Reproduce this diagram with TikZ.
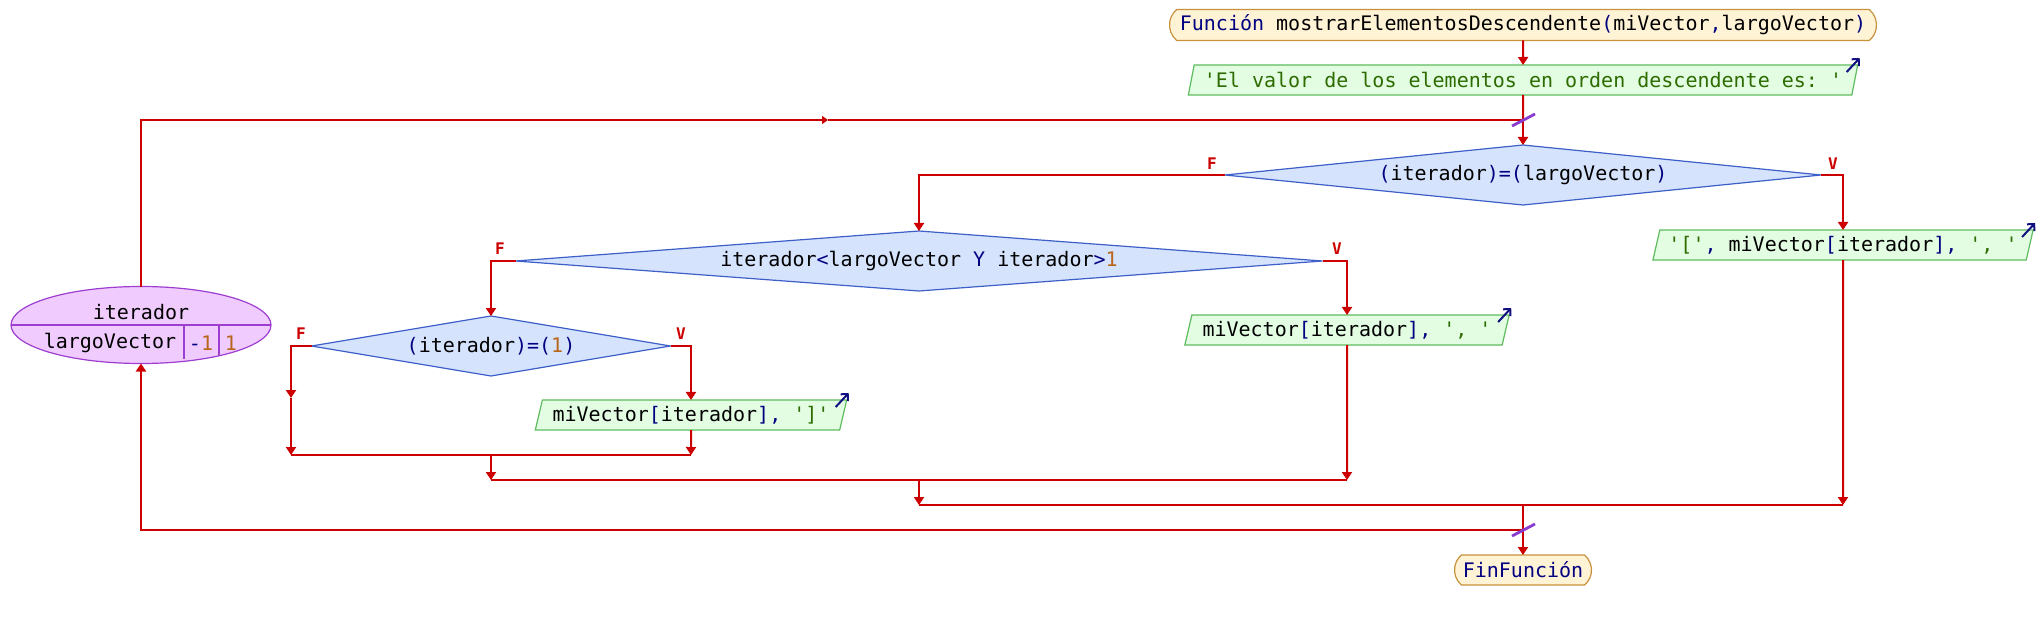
\documentclass[tikz,border=0pt]{standalone}
\usepackage{fontspec}
\setmonofont{DejaVu Sans Mono}
\usetikzlibrary{shapes.geometric,shapes.misc,arrows.meta}
\definecolor{lineRed}{HTML}{CC0000}
\definecolor{startFill}{HTML}{FFF3D6}
\definecolor{startDraw}{HTML}{C8923C}
\definecolor{outFill}{HTML}{E3FDE3}
\definecolor{outDraw}{HTML}{5FBB5F}
\definecolor{diaFill}{HTML}{D5E3FD}
\definecolor{diaDraw}{HTML}{3D5FC8}
\definecolor{loopFill}{HTML}{F0CCFE}
\definecolor{loopDraw}{HTML}{9D3ED0}
\definecolor{slashCol}{HTML}{8A3CD0}
\definecolor{iconCol}{HTML}{101080}
\definecolor{opc}{HTML}{000080}
\definecolor{numc}{HTML}{B8651B}
\definecolor{strc}{HTML}{2E6B00}
\newcommand{\op}[1]{\textcolor{opc}{#1}}
\newcommand{\nm}[1]{\textcolor{numc}{#1}}
\newcommand{\st}[1]{\textcolor{strc}{#1}}
\begin{document}
\begin{tikzpicture}[x=0.5pt,y=-0.5pt,
  font=\ttfamily\fontsize{10}{12}\selectfont,
  conn/.style={draw=lineRed, line width=1pt},
  arr/.style={conn, -{Triangle[width=5pt,length=4pt]}},
  midarr/.style={conn, -{Triangle[width=4pt,length=3pt]}},
  merge/.style={draw=lineRed, line width=1.4pt},
  startbox/.style={rounded rectangle, rounded rectangle arc length=100, draw=startDraw, fill=startFill, minimum height=15.5pt, inner sep=0pt, outer sep=0pt, line width=0.6pt},
  outbox/.style={trapezium, trapezium left angle=70, trapezium right angle=110, trapezium stretches=true, draw=outDraw, fill=outFill, minimum height=15pt, inner sep=0pt, outer sep=0pt, line width=0.6pt},
  decbox/.style={diamond, draw=diaDraw, fill=diaFill, minimum height=30pt, inner sep=0pt, outer sep=0pt, line width=0.6pt},
  loopbox/.style={ellipse, draw=loopDraw, fill=loopFill, inner sep=0pt, outer sep=0pt, line width=0.6pt},
  loopline/.style={draw=loopDraw, line width=0.6pt},
  flag/.style={text=lineRed, inner sep=0pt, font=\ttfamily\bfseries\fontsize{8}{9}\selectfont},
  slashmark/.style={draw=slashCol, line width=1.4pt},
  outicon/.style={draw=iconCol, line width=1pt, -{Straight Barb[length=2.5pt,width=5pt]}}
]
\useasboundingbox (0,0) rectangle (2039,620);

% nodes
\node[startbox, minimum width=353.5pt] (start) at (1523,25) {\op{Función} mostrarElementosDescendente\op{(}miVector\op{,}largoVector\op{)}};
\node[outbox, minimum width=336pt] (out1) at (1523,80) {\st{'El valor de los elementos en orden descendente es: '}};
\node[decbox, minimum width=298pt, aspect=10] (d1) at (1523,175) {\op{(}iterador\op{)=(}largoVector\op{)}};
\node[decbox, minimum width=403.5pt, aspect=13] (d2) at (919,261) {iterador\op{<}largoVector \op{Y} iterador\op{>}\nm{1}};
\node[decbox, minimum width=179.5pt, aspect=6] (d3) at (491,346) {\op{(}iterador\op{)=(}\nm{1}\op{)}};
\node[outbox, minimum width=190.5pt] (out2) at (1843,245) {\st{'['}\op{,} miVector\op{[}iterador\op{],} \st{', '}};
\node[outbox, minimum width=162.5pt] (out3) at (1347,330) {miVector\op{[}iterador\op{],} \st{', '}};
\node[outbox, minimum width=156pt] (out4) at (691,415) {miVector\op{[}iterador\op{],} \st{']'}};
\node[startbox, minimum width=68.5pt, minimum height=15pt] (end) at (1523,570) {\op{FinFunción}};
\node[loopbox, minimum width=130pt, minimum height=38.5pt] (loop) at (141,325) {};

% loop contents
\draw[loopline] (loop.west) -- (loop.east);
\coordinate (lv1t) at (184,325);
\coordinate (lv1b) at (184,359);
\coordinate (lv2t) at (219,325);
\coordinate (lv2b) at (219,356);
\draw[loopline] (lv1t) -- (lv1b);
\draw[loopline] (lv2t) -- (lv2b);
\node (lvar) at (141,312) {iterador};
\node (lend) at (110,343) {largoVector};
\node (lstep) at (201,343) {\op{-}\nm{1}};
\node (linit) at (231,343) {\nm{1}};

% flags
\node[flag] (f1) at (1212,164) {F};
\node[flag] (v1) at (1833,164) {V};
\node[flag] (f2) at (500,249) {F};
\node[flag] (v2) at (1337,249) {V};
\node[flag] (f3) at (301,334) {F};
\node[flag] (v3) at (681,334) {V};

% junctions
\coordinate (j1) at (1523,120);
\coordinate (j2) at (1523,530);
\coordinate (m3l) at (291,455);
\coordinate (m3r) at (691,455);
\coordinate (m3c) at (491,455);
\coordinate (m2l) at (491,480);
\coordinate (m2r) at (1347,480);
\coordinate (m2c) at (919,480);
\coordinate (m1l) at (919,505);
\coordinate (m1r) at (1843,505);
\coordinate (m1c) at (1523,505);
\coordinate (d3f) at (291,398);
\coordinate (lpMid) at (828,120);

% connectors
\draw[arr] (start.south) -- (out1.north);
\draw[conn] (out1.south) -- (j1);
\draw[arr] (j1) -- (d1.north);
\draw[arr] (d1.west) -| (d2.north);
\draw[arr] (d1.east) -| (out2.north);
\draw[arr] (d2.west) -| (d3.north);
\draw[arr] (d2.east) -| (out3.north);
\draw[arr] (d3.west) -| (d3f);
\draw[arr] (d3f) -- (m3l);
\draw[arr] (d3.east) -| (out4.north);
\draw[arr] (out4.south) -- (m3r);
\draw[merge] (m3l) -- (m3r);
\draw[arr] (m3c) -- (m2l);
\draw[arr] (out3.south) -- (m2r);
\draw[merge] (m2l) -- (m2r);
\draw[arr] (m2c) -- (m1l);
\draw[arr] (out2.south) -- (m1r);
\draw[merge] (m1l) -- (m1r);
\draw[conn] (m1c) -- (j2);
\draw[arr] (j2) -- (end.north);
\draw[midarr] (loop.north) |- (lpMid);
\draw[conn] (lpMid) -- (j1);
\draw[arr] (j2) -| (loop.south);

% slash marks
\draw[slashmark] ([shift={(-11,6)}]j1) -- ([shift={(12,-6)}]j1);
\draw[slashmark] ([shift={(-11,6)}]j2) -- ([shift={(12,-6)}]j2);

% output icons
\draw[outicon] ([shift={(-11,7)}]out1.top right corner) -- ++(13,-14);
\draw[outicon] ([shift={(-11,7)}]out2.top right corner) -- ++(13,-14);
\draw[outicon] ([shift={(-11,7)}]out3.top right corner) -- ++(13,-14);
\draw[outicon] ([shift={(-11,7)}]out4.top right corner) -- ++(13,-14);
\end{tikzpicture}
\end{document}
